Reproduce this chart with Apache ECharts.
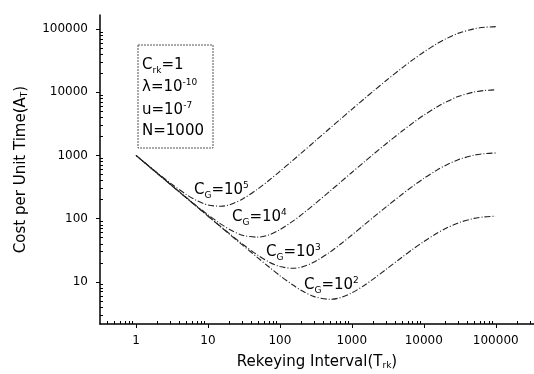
<!DOCTYPE html>
<html>
<head>
<meta charset="utf-8">
<script src="https://cdn.jsdelivr.net/npm/echarts@6/dist/echarts.min.js"></script>
<style>
  html, body { margin: 0; padding: 0; background: #fff; }
  #main { width: 534px; height: 374px; }
</style>
</head>
<body>
<div id="main"></div>
<script>
// rekeying interval samples (x) and cost per unit time for each C_G
var rekeyT = [1, 2, 3, 5, 7, 10, 15, 20, 30, 50, 70, 100, 150, 200, 300, 500, 700, 1000,
  1500, 2000, 3000, 5000, 7000, 10000, 15000, 20000, 30000, 50000, 70000, 100000];
var costG5 = [1005, 525, 365, 241, 193, 165, 157, 166, 203, 298, 401, 561, 830, 1101, 1642, 2719, 3785, 5366,
  7950, 10468, 15322, 24332, 32484, 43282, 58039, 69533, 85456, 100971, 106678, 109259];
var costG4 = [1001, 515, 350, 216, 158, 115, 82.6, 67.4, 54.7, 50.9, 55.3, 66.9, 90.4, 115.6, 168, 274, 380, 538,
  796, 1048, 1533, 2433, 3248, 4328, 5804, 6953, 8546, 10097, 10668, 10926];
var costG3 = [1000, 514, 348, 213, 155, 110, 75.1, 57.5, 39.8, 26.1, 20.7, 17.5, 16.4, 17.1, 20.6, 29.7, 39.7, 55.0,
  80.4, 105.4, 153.7, 243.6, 325, 433, 580, 695, 855, 1010, 1067, 1093];
var costG2 = [1000, 514, 348, 213, 154.5, 109.7, 74.4, 56.5, 38.4, 23.7, 17.3, 12.5, 8.97, 7.27, 5.83, 5.28, 5.64, 6.69,
  8.84, 11.15, 15.78, 24.6, 32.7, 43.4, 58.1, 69.6, 85.5, 101, 106.7, 109.3];

// tick values
var xMajor = [1, 10, 100, 1000, 10000, 100000];
var xMinor = [0.4, 0.5, 0.6, 0.7, 0.8, 0.9, 2, 3, 4, 5, 6, 7, 8, 9, 20, 30, 40, 50, 60, 70, 80, 90,
  200, 300, 400, 500, 600, 700, 800, 900, 2000, 3000, 4000, 5000, 6000, 7000, 8000, 9000,
  20000, 30000, 40000, 50000, 60000, 70000, 80000, 90000, 200000, 300000];
var yMajor = [10, 100, 1000, 10000, 100000];
var yMinor = [3, 4, 5, 6, 7, 8, 9, 20, 30, 40, 50, 60, 70, 80, 90, 200, 300, 400, 500, 600, 700, 800, 900,
  2000, 3000, 4000, 5000, 6000, 7000, 8000, 9000, 20000, 30000, 40000, 50000, 60000, 70000, 80000, 90000];

var curves = [
  { name: 'CG=1e5', data: costG5 },
  { name: 'CG=1e4', data: costG4 },
  { name: 'CG=1e3', data: costG3 },
  { name: 'CG=1e2', data: costG2 }
];

var FONT = 'DejaVu Sans';
var INK = '#000';

var chart = echarts.init(document.getElementById('main'));

function pairs(ys) {
  return rekeyT.map(function (t, i) { return [t, ys[i]]; });
}

function fmt(v) {
  return String(Math.round(v));
}

var subRich = {
  s: { fontSize: 9, fontFamily: FONT, fill: INK, color: INK, verticalAlign: 'bottom', lineHeight: 10 },
  p: { fontSize: 9, fontFamily: FONT, fill: INK, color: INK, verticalAlign: 'top', lineHeight: 10 }
};

function note(x, y, text) {
  return {
    type: 'text',
    x: x,
    y: y,
    style: {
      text: text,
      font: '15px ' + FONT,
      fill: INK,
      lineHeight: 19,
      rich: subRich
    }
  };
}

var nameRich = { s: { fontSize: 9, fontFamily: FONT, color: INK, verticalAlign: 'bottom', padding: [7, 0, 0, 0] } };

var option = {
  animation: false,
  grid: { left: 100, right: 0, top: 15, bottom: 50, outerBoundsMode: 'none' },
  xAxis: [
    {
      type: 'log',
      min: 0.316,
      max: 340000,
      name: 'Rekeying Interval(T{s|rk})',
      nameLocation: 'middle',
      nameGap: 30,
      nameTextStyle: { fontFamily: FONT, fontSize: 15, color: INK, rich: nameRich },
      axisLine: { lineStyle: { color: INK, width: 1.5 } },
      axisTick: { customValues: xMajor, length: 4, lineStyle: { color: INK } },
      axisLabel: { customValues: xMajor, formatter: fmt, fontFamily: FONT, fontSize: 12, color: INK, margin: 11 },
      splitLine: { show: false }
    },
    {
      type: 'log',
      min: 0.316,
      max: 340000,
      position: 'bottom',
      axisLine: { show: false },
      axisTick: { customValues: xMinor, inside: true, length: 3, lineStyle: { color: INK } },
      axisLabel: { show: false },
      splitLine: { show: false }
    }
  ],
  yAxis: [
    {
      type: 'log',
      min: 2.15,
      max: 167000,
      name: 'Cost per Unit Time(A{s|T})',
      nameLocation: 'middle',
      nameGap: 71,
      nameTextStyle: { fontFamily: FONT, fontSize: 15, color: INK, rich: nameRich },
      axisLine: { lineStyle: { color: INK, width: 1.5 } },
      axisTick: { customValues: yMajor, length: 4, lineStyle: { color: INK } },
      axisLabel: { customValues: yMajor, formatter: fmt, fontFamily: FONT, fontSize: 12, color: INK, margin: 12 },
      splitLine: { show: false }
    },
    {
      type: 'log',
      min: 2.15,
      max: 167000,
      position: 'left',
      axisLine: { show: false },
      axisTick: { customValues: yMinor, inside: true, length: 3, lineStyle: { color: INK } },
      axisLabel: { show: false },
      splitLine: { show: false }
    }
  ],
  series: curves.map(function (c, i) {
    return {
      name: c.name,
      type: 'line',
      xAxisIndex: 0,
      yAxisIndex: 0,
      smooth: 0.3,
      showSymbol: false,
      data: pairs(c.data),
      lineStyle: { color: '#222', width: 1.1, type: [6, 2, 1, 2], dashOffset: i * 2.5 }
    };
  }),
  graphic: [
    // parameter box
    {
      type: 'rect',
      shape: { x: 138, y: 45, width: 75, height: 103 },
      style: { fill: 'none', stroke: '#555', lineWidth: 1, lineDash: [2, 1] }
    },
    note(142, 56, 'C{s|rk}=1'),
    note(142, 78, 'λ=10{p|-10}'),
    note(142, 101, 'u=10{p|-7}'),
    note(142, 122, 'N=1000'),
    // curve labels
    note(194, 181, 'C{s|G}=10{p|5}'),
    note(232, 208, 'C{s|G}=10{p|4}'),
    note(266, 243, 'C{s|G}=10{p|3}'),
    note(304, 276, 'C{s|G}=10{p|2}')
  ]
};

chart.setOption(option);
</script>
</body>
</html>
